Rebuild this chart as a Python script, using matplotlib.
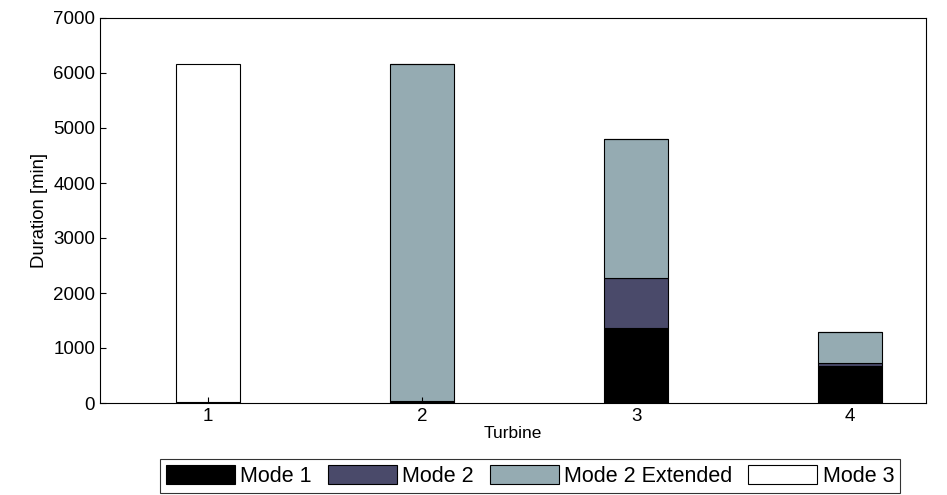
import matplotlib.pyplot as plt
import numpy as np

plt.rcParams['font.family'] = ['Liberation Sans', 'DejaVu Sans']

turbines = [1, 2, 3, 4]
mode1 = [25, 30, 1360, 670]
mode2 = [0, 0, 920, 50]
mode2_ext = [0, 6140, 2520, 570]
mode3 = [6145, 0, 0, 0]

labels = ['Mode 1', 'Mode 2', 'Mode 2 Extended', 'Mode 3']
colors = ['#000000', '#4a4a6a', '#95abb2', '#ffffff']
series = [mode1, mode2, mode2_ext, mode3]

fig = plt.figure(figsize=(9.47, 4.95), dpi=100)
ax = fig.add_axes([100 / 947, 1 - 403 / 495, 826 / 947, 385 / 495])

x = np.array(turbines)
bottom = np.zeros(len(turbines))
for vals, lab, col in zip(series, labels, colors):
    ax.bar(x, vals, width=0.3, bottom=bottom, color=col, edgecolor='black',
           linewidth=0.8, label=lab)
    bottom += np.array(vals)

ax.set_xlim(0.495, 4.355)
ax.set_ylim(0, 7000)
ax.set_xticks(turbines)
ax.set_yticks(range(0, 7001, 1000))
ax.tick_params(direction='in', labelsize=13.5, length=4)
ax.set_xlabel('Turbine', fontsize=12.5, labelpad=1)
ax.set_ylabel('Duration [min]', fontsize=13.3)
for s in ax.spines.values():
    s.set_linewidth(0.8)

leg = fig.legend(loc='center', bbox_to_anchor=(530 / 947, 1 - 476 / 495), ncol=4,
                 fontsize=15.5, frameon=True, fancybox=False, edgecolor='black',
                 handlelength=3.2, handleheight=0.95, columnspacing=0.75,
                 handletextpad=0.25, borderpad=0.28, borderaxespad=0)
leg.get_frame().set_linewidth(0.8)

fig.savefig('out.png', dpi=100)
